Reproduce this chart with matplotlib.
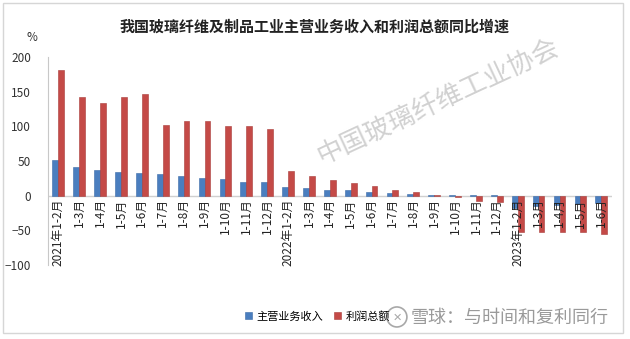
import numpy as np
import matplotlib
matplotlib.use('Agg')
from matplotlib import pyplot as plt
from matplotlib.patches import Rectangle, Ellipse

plt.rcParams['font.family'] = ['Noto Sans CJK SC', 'DejaVu Sans']

# 数据：累计同比增速（%）
months = ['2021年1-2月', '1-3月', '1-4月', '1-5月', '1-6月', '1-7月', '1-8月',
          '1-9月', '1-10月', '1-11月', '1-12月',
          '2022年1-2月', '1-3月', '1-4月', '1-5月', '1-6月', '1-7月', '1-8月',
          '1-9月', '1-10月', '1-11月', '1-12月',
          '2023年1-2月', '1-3月', '1-4月', '1-5月', '1-6月']
revenue = [52, 41, 37, 34, 33, 31, 28.5, 26, 24, 20, 20,
           13, 11, 8, 8, 6, 4, 2.4, 1, 1, 0.6, 0.6,
           -18, -15, -14, -12, -10]
profit = [181, 142, 133, 142, 147, 102, 107, 108, 101, 101, 96,
          35, 28, 22, 19, 14.5, 8, 5, 0.5, -1.5, -8, -9,
          -52, -52, -53, -53, -55]

BLUE = '#4a7ebf'
RED = '#c44a47'

fig = plt.figure(figsize=(6.3, 3.39), dpi=100)
ax = fig.add_axes([0.076, 0.218, 0.895, 0.614])

x = np.arange(len(months))
w = 0.28
ax.bar(x - w / 2, revenue, width=w, color=BLUE, edgecolor='#3a6aa8', linewidth=0.4, label='主营业务收入', zorder=3)
ax.bar(x + w / 2, profit, width=w, color=RED, edgecolor='#a83b38', linewidth=0.4, label='利润总额', zorder=3)

ax.set_xlim(-0.5, len(months) - 0.5)
ax.set_ylim(-100, 200)
ax.set_yticks([-100, -50, 0, 50, 100, 150, 200])
ax.tick_params(axis='y', length=0, pad=12, labelsize=8.5, colors='#333333')
ax.tick_params(axis='x', length=0, labelbottom=False)
for s in ['top', 'right', 'bottom']:
    ax.spines[s].set_visible(False)
ax.spines['left'].set_color('#c8c8c8')
ax.axhline(0, color='#d0d0d0', linewidth=1, zorder=1)

# x labels hang below the zero line
for xi, lbl in zip(x, months):
    ax.text(xi, -4, lbl, rotation=90, ha='center', va='top', fontsize=8.5, color='#222222', zorder=5)

fig.text(0.5, 0.92, '我国玻璃纤维及制品工业主营业务收入和利润总额同比增速',
         ha='center', va='center', fontsize=10.8, fontweight='bold', color='#222222')
fig.text(0.051, 0.888, '%', ha='center', va='center', fontsize=8.5, color='#333333')

# watermarks
fig.text(0.695, 0.70, '中国玻璃纤维工业协会', rotation=25, ha='center', va='center',
         fontsize=19, color='#c9c9c9', alpha=0.85, zorder=0)

leg = fig.legend(loc='center', bbox_to_anchor=(0.504, 0.067), ncol=2, frameon=False,
                 fontsize=8, handlelength=0.6, handleheight=0.6, handletextpad=0.4,
                 columnspacing=1.0)

fig.patches.append(Ellipse((0.630, 0.065), 20 / 630, 20 / 339, transform=fig.transFigure,
                           fill=False, edgecolor='#a8a8a8', linewidth=1.2))
fig.text(0.630, 0.063, '✕', ha='center', va='center', fontsize=8, color='#a8a8a8',
         family=['DejaVu Sans'])
fig.text(0.652, 0.063, '雪球：与时间和复利同行', ha='left', va='center',
         fontsize=13, color='#9a9a9a')

fig.patches.append(Rectangle((0.005, 0.018), 0.984, 0.972, transform=fig.transFigure,
                             fill=False, edgecolor='#d6d6d6', linewidth=1))

fig.savefig('out.png', dpi=100)
